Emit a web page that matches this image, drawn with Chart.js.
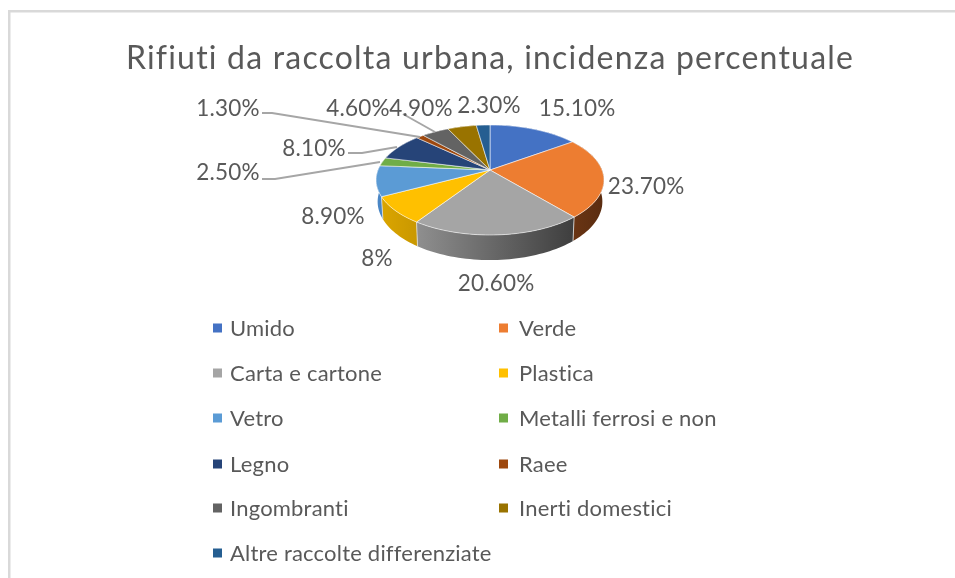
<!DOCTYPE html>
<html>
<head>
<meta charset="utf-8">
<style>
html,body{margin:0;padding:0;background:#fff}
canvas{display:block}
</style>
<script src="https://cdn.jsdelivr.net/npm/chart.js@4"></script>
</head>
<body>
<canvas id="c" width="955" height="578"></canvas>
<script>
const titleText = "Rifiuti da raccolta urbana, incidenza percentuale";
const categories = ["Umido","Verde","Carta e cartone","Plastica","Vetro","Metalli ferrosi e non","Legno","Raee","Ingombranti","Inerti domestici","Altre raccolte differenziate"];
const values = [15.1,23.7,20.6,8,8.9,2.5,8.1,1.3,4.6,4.9,2.3];
const valueLabels = ["15.10%","23.70%","20.60%","8%","8.90%","2.50%","8.10%","1.30%","4.60%","4.90%","2.30%"];
const colors = ["#4472C4","#ED7D31","#A5A5A5","#FFC000","#5B9BD5","#70AD47","#264478","#9E480E","#636363","#997300","#255E91"];
const wallFrom = ["#3a62a8","#6a3514","#8f8f8f","#dba500","#4a86c5","#5f9339","#203a66","#863d0c","#545454","#826200","#20507b"];
const wallTo = ["#3a62a8","#5a2c10","#3e3e3e","#c99800","#4a86c5","#5f9339","#203a66","#863d0c","#545454","#826200","#20507b"];

// layout of the annotations (label centres, leader elbows)
const labelCentres = [[577,109],[646,187],[496,284],[377,259],[333,217],[228,173],[314,149],[228,109],[358,109],[421,109],[489,106]];
const leaders = {5:[[262,179],[275,179]],6:[[348,153],[362,153]],7:[[262,113],[272,113]],8:[[403,114]]};
const leaderEnds = {5:[380,162],6:[397,147],7:[420,137],8:[435,132]};
const legendCols = [213,499];
const legendTextX = [230,519];
const legendRows = [329,374,419,465,509,554];

// pie projection (perspective seen from above)
const cx=490, cy=170, A=112, Abottom=110.5, B=53.18, k=0.1818, cyBottom=191, Bbottom=56.5;
function proj(theta, bottom){
  const u=Math.sin(theta), v=Math.cos(theta), d=1+k*v;
  return [cx+(bottom?Abottom:A)*u/d, bottom ? cyBottom-Bbottom*v/d : cy-B*v/d];
}
function arcPoints(a0,a1,bottom){
  const n=Math.max(2,Math.ceil((a1-a0)/0.03)), pts=[];
  for(let i=0;i<=n;i++) pts.push(proj(a0+(a1-a0)*i/n,bottom));
  return pts;
}

const FONT="Lato";
const TEXT="#595959";

const pie3d={
  id:'pie3d',
  beforeDraw(chart){
    const ctx=chart.ctx;
    ctx.save();
    ctx.fillStyle="#fff"; ctx.fillRect(0,0,955,578);
    ctx.fillStyle="#d9d9d9";
    ctx.fillRect(8,10,947,2.5);
    ctx.fillRect(8,10,2.5,568);
    ctx.restore();
    ctx.letterSpacing="1.2px";
  },
  beforeDatasetsDraw(chart){
    const ctx=chart.ctx, meta=chart.getDatasetMeta(0);
    ctx.letterSpacing="0px";
    const ang=meta.data.map(e=>[e.startAngle+Math.PI/2,e.endAngle+Math.PI/2]);
    // walls
    ang.forEach(([a0,a1],i)=>{
      const t=arcPoints(a0,a1,false), b=arcPoints(a0,a1,true).reverse();
      const xs=t.map(p=>p[0]);
      const g=ctx.createLinearGradient(Math.min(...xs),0,Math.max(...xs),0);
      g.addColorStop(0,wallFrom[i]); g.addColorStop(1,wallTo[i]);
      ctx.beginPath();
      t.concat(b).forEach((p,j)=>j?ctx.lineTo(p[0],p[1]):ctx.moveTo(p[0],p[1]));
      ctx.closePath();
      ctx.fillStyle=g; ctx.fill();
    });
    // wall separators
    ctx.strokeStyle="rgba(225,225,225,0.8)"; ctx.lineWidth=1;
    ang.forEach(([a0],i)=>{
      const th=a0; if(Math.cos(th)>-0.3) return;
      const p=proj(th,false), q=proj(th,true);
      ctx.beginPath(); ctx.moveTo(p[0],p[1]); ctx.lineTo(q[0],q[1]); ctx.stroke();
    });
    // top faces
    ang.forEach(([a0,a1],i)=>{
      const t=arcPoints(a0,a1,false);
      ctx.beginPath(); ctx.moveTo(cx,cy);
      t.forEach(p=>ctx.lineTo(p[0],p[1]));
      ctx.closePath();
      ctx.fillStyle=colors[i]; ctx.fill();
      ctx.strokeStyle="rgba(255,255,255,0.55)"; ctx.lineWidth=1; ctx.stroke();
    });
    return false;
  },
  afterDraw(chart){
    const ctx=chart.ctx;
    ctx.save();
    ctx.letterSpacing="0px";
    // leaders
    ctx.strokeStyle="#A6A6A6"; ctx.lineWidth=2;
    Object.keys(leaders).forEach(i=>{
      const pts=leaders[i].concat([leaderEnds[i]]);
      ctx.beginPath();
      pts.forEach((p,j)=>j?ctx.lineTo(p[0],p[1]):ctx.moveTo(p[0],p[1]));
      ctx.stroke();
    });
    // value labels
    ctx.letterSpacing="0.2px";
    ctx.font="22.5px "+FONT; ctx.fillStyle=TEXT; ctx.textAlign="center"; ctx.textBaseline="middle";
    valueLabels.forEach((s,i)=>ctx.fillText(s,labelCentres[i][0],labelCentres[i][1]));
    // legend
    ctx.font="22px "+FONT; ctx.textAlign="left";
    chart.data.labels.forEach((s,i)=>{
      const c=i%2, y=legendRows[Math.floor(i/2)];
      ctx.fillStyle=colors[i]; ctx.fillRect(legendCols[c],y-5.5,9,9);
      ctx.fillStyle=TEXT; ctx.fillText(s,legendTextX[c],y);
    });
    ctx.restore();
  }
};

new Chart(document.getElementById('c'),{
  type:'pie',
  data:{labels:categories,datasets:[{data:values,backgroundColor:colors,borderWidth:0}]},
  options:{
    responsive:false,animation:false,
    layout:{padding:{left:25,top:0}},
    plugins:{
      legend:{display:false},
      tooltip:{enabled:false},
      title:{display:true,text:titleText,color:TEXT,font:{family:FONT,size:32,weight:'normal'},padding:{top:39,bottom:10}}
    }
  },
  plugins:[pie3d]
});
</script>
</body>
</html>
